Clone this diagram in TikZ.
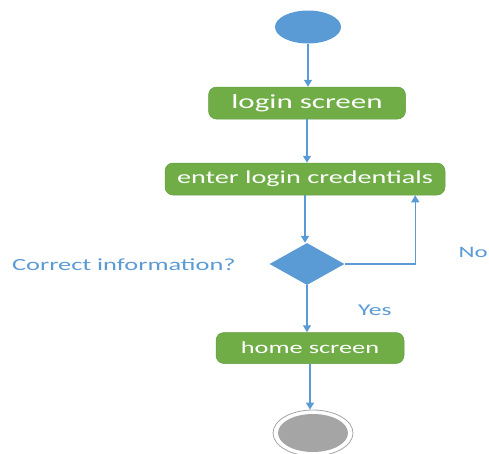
\documentclass[tikz,border=0pt]{standalone}
\usepackage{fontspec}
\setmainfont{Carlito}
\newfontfamily\widefont[FakeStretch=1.55]{Carlito}
\usetikzlibrary{shapes.geometric,arrows.meta}
\definecolor{actgreen}{HTML}{70AD47}
\definecolor{flowblue}{HTML}{5B9BD5}
\definecolor{endgrey}{HTML}{A5A5A5}
\tikzset{
  activity/.style={rectangle, rounded corners=8pt, fill=actgreen, draw=actgreen!90!black, line width=0.5pt,
    text=white, font=\widefont, inner sep=0pt, anchor=center},
  flow/.style={draw=flowblue, line width=1.4pt, -{Triangle[length=7pt,width=8pt]}},
  label/.style={text=flowblue, font=\widefont, inner sep=0pt},
}
\begin{document}
\begin{tikzpicture}[x=1pt, y=-1pt]
  \useasboundingbox (0,0) rectangle (489,453);
  % initial state
  \node[ellipse, fill=flowblue, minimum width=66pt, minimum height=33pt, inner sep=0pt] (start) at (308,27) {};
  % activities
  \node[activity, minimum width=197pt, minimum height=32pt, font=\widefont\fontsize{20}{22}\selectfont] (login) at (307,103) {login screen};
  \node[activity, minimum width=280pt, minimum height=32pt, font=\widefont\fontsize{18.2}{20}\selectfont] (enter) at (305,179) {enter login credentials};
  % decision
  \node[diamond, fill=flowblue, minimum width=75pt, minimum height=42pt, inner sep=0pt] (dec) at (307,264) {};
  \node[activity, minimum width=188pt, minimum height=31pt, font=\widefont\fontsize{17}{19}\selectfont] (home) at (310,348) {home screen};
  % final state
  \node[ellipse, draw=endgrey, line width=0.8pt, fill=white, minimum width=80pt, minimum height=46pt, inner sep=0pt] (stop) at (313,433) {};
  \node[ellipse, fill=endgrey, minimum width=70pt, minimum height=38pt, inner sep=0pt] (stopcore) at (313,433) {};
  % labels
  \node[label, font=\widefont\fontsize{17}{19}\selectfont, anchor=west] (q) at (12,265) {Correct information?};
  \node[label, font=\widefont\fontsize{16.5}{19}\selectfont, anchor=west] (yes) at (358,310) {Yes};
  \node[label, font=\widefont\fontsize{16}{19}\selectfont, anchor=east] (no) at (488,252) {No};
  % transitions
  \draw[flow] (start.south) -- (start.south |- login.north);
  \draw[flow] (login.south) -- (login.south |- enter.north);
  \draw[flow] (enter.south) -- (enter.south |- dec.north);
  \draw[flow] (dec.south) -- (dec.south |- home.north);
  \draw[flow] (home.south) -- (home.south |- stop.north);
  \draw[flow] (dec.east) -| ([xshift=-30pt]enter.south east);
\end{tikzpicture}
\end{document}
